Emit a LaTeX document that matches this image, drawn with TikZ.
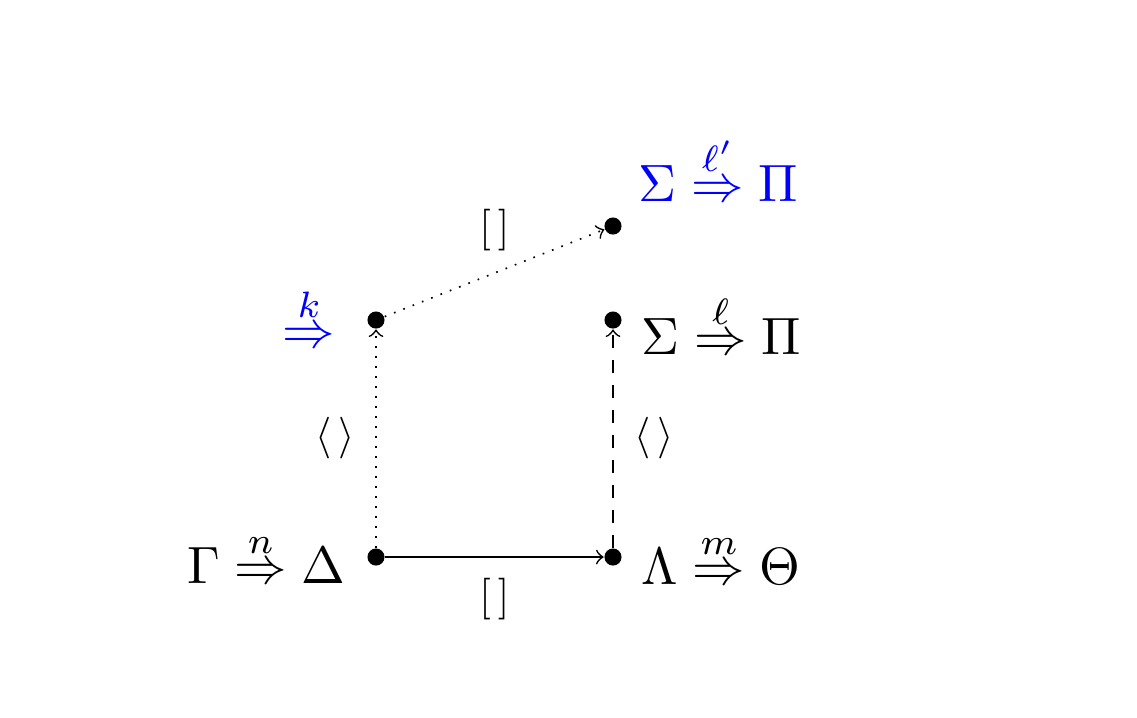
\documentclass[tikz,border=0pt]{standalone}
\usepackage{amsmath}
\usepackage{graphicx}
\newcommand{\bigseq}[1]{\scalebox{1.26}{$#1$}}
\begin{document}
\begin{tikzpicture}[x=0.2401pt,y=-0.2401pt,
  dotn/.style={circle,fill=black,inner sep=0pt,minimum size=4.1pt},
  seq/.style={inner sep=0pt},
  lab/.style={inner sep=0pt}]
\useasboundingbox (0,0) rectangle (1137,717);
\node[dotn] (A) at (376,557) {};
\node[dotn] (B) at (613,557) {};
\node[dotn] (C) at (376,320) {};
\node[dotn] (D) at (613,320) {};
\node[dotn] (E) at (613,226) {};
\draw[->] (A) -- node[lab,midway,below=5pt] (l1) {$[\,]$} (B);
\draw[->,dotted] (A) -- node[lab,midway,left=5pt] (l2) {$\langle\,\rangle$} (C);
\draw[->,dashed] (B) -- node[lab,midway,right=5pt] (l3) {$\langle\,\rangle$} (D);
\draw[->,dotted] (C) -- node[lab,midway,above=5pt] (l4) {$[\,]$} (E);
\node[seq,anchor=base east] (sA) at (346,583) {\bigseq{\Gamma\stackrel{n}{\Rightarrow}\Delta}};
\node[seq,anchor=base west] (sB) at (641,584) {\bigseq{\Lambda\stackrel{m}{\Rightarrow}\Theta}};
\node[seq,anchor=base west] (sD) at (641,354) {\bigseq{\Sigma\stackrel{\ell}{\Rightarrow}\Pi}};
\node[seq,anchor=base west,text=blue] (sE) at (638,201) {\bigseq{\Sigma\stackrel{\ell'}{\Rightarrow}\Pi}};
\node[seq,anchor=base east,text=blue] (sC) at (336,347) {\bigseq{\stackrel{k}{\Rightarrow}}};
\end{tikzpicture}
\end{document}
